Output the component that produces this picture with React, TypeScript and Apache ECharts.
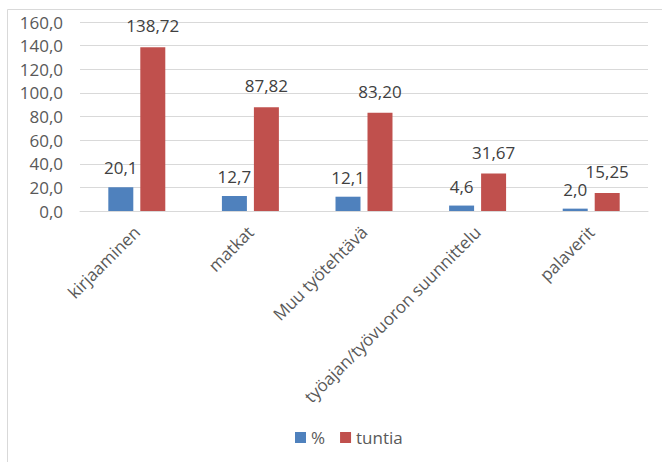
import React, { useEffect, useRef } from "react";
import * as echarts from "echarts";

const categories = ["kirjaaminen", "matkat", "Muu työtehtävä", "työajan/työvuoron suunnittelu", "palaverit"];
const percentValues = [20.1, 12.7, 12.1, 4.6, 2.0];
const hourValues = [138.72, 87.82, 83.2, 31.67, 15.25];
const seriesNames = ["%", "tuntia"];

const fmt = (v: number, d: number) => v.toFixed(d).replace(".", ",");
const FONT = "'Open Sans', sans-serif";
const TEXT = "#595959";

export default function App() {
  const ref = useRef<HTMLDivElement>(null);
  useEffect(() => {
    document.body.style.margin = "0";
    const chart = echarts.init(ref.current!, null, { renderer: "svg" });
    chart.setOption({
      animation: false,
      textStyle: { fontFamily: FONT },
      graphic: [
        {
          type: "rect",
          shape: { x: 7.5, y: 9.5, width: 700, height: 500 },
          style: { fill: "none", stroke: "#d9d9d9", lineWidth: 1 },
          silent: true,
        },
      ],
      grid: { left: 80, right: 14, top: 22, bottom: 251, containLabel: false },
      legend: {
        top: 424,
        left: 290,
        itemWidth: 11,
        itemHeight: 11,
        itemGap: 15,
        icon: "rect",
        textStyle: { color: TEXT, fontSize: 17, fontFamily: FONT },
        data: seriesNames,
      },
      xAxis: {
        type: "category",
        data: categories,
        axisLine: { lineStyle: { color: "#d9d9d9", width: 1 } },
        axisTick: { show: false },
        axisLabel: { rotate: 45, color: TEXT, fontSize: 17, fontFamily: FONT, interval: 0, margin: 18 },
      },
      yAxis: {
        type: "value",
        min: 0,
        max: 160,
        interval: 20,
        axisLine: { show: false },
        axisTick: { show: false },
        splitLine: { lineStyle: { color: "#d9d9d9", width: 1 } },
        axisLabel: {
          color: TEXT,
          fontSize: 17,
          fontFamily: FONT,
          margin: 17,
          formatter: (v: number) => fmt(v, 1),
        },
      },
      series: [
        {
          name: seriesNames[0],
          type: "bar",
          data: percentValues,
          barWidth: "22%",
          barGap: "28%",
          itemStyle: { color: "#4F81BD" },
          label: {
            show: true,
            position: "top",
            distance: 11,
            color: "#404040",
            fontSize: 17,
            fontFamily: FONT,
            formatter: (p: any) => fmt(p.value, 1),
          },
        },
        {
          name: seriesNames[1],
          type: "bar",
          data: hourValues,
          barWidth: "22%",
          itemStyle: { color: "#C0504D" },
          label: {
            show: true,
            position: "top",
            distance: 13,
            color: "#404040",
            fontSize: 17,
            fontFamily: FONT,
            formatter: (p: any) => fmt(p.value, 2),
          },
        },
      ],
    });
    return () => chart.dispose();
  }, []);
  return <div ref={ref} style={{ width: 662, height: 462 }} />;
}
